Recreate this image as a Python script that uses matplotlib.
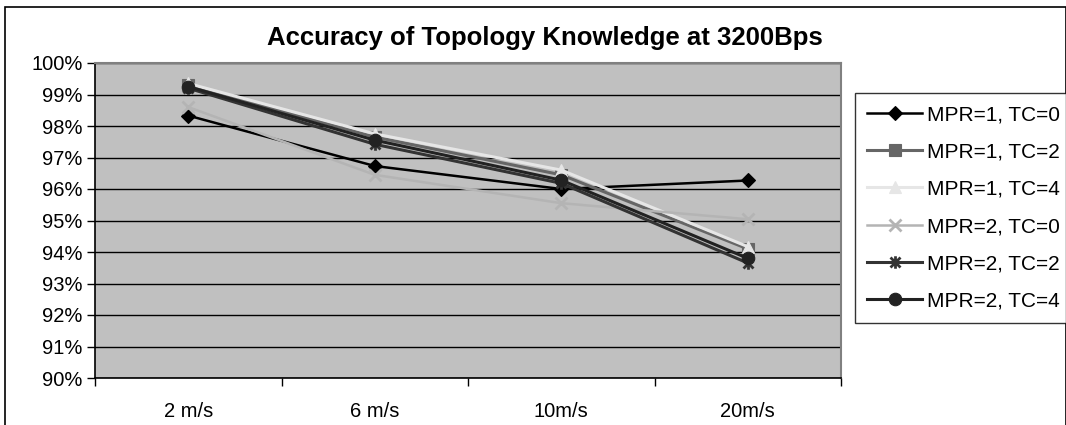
import matplotlib
matplotlib.use("Agg")
import matplotlib.pyplot as plt
from matplotlib.patches import Rectangle
from matplotlib.path import Path
from matplotlib.ticker import FixedLocator, FuncFormatter

plt.rcParams['font.family'] = ['Liberation Sans', 'DejaVu Sans']

speeds = ["2 m/s", "6 m/s", "10m/s", "20m/s"]

mpr1_tc0 = [98.33, 96.73, 96.00, 96.27]
mpr1_tc2 = [99.30, 97.65, 96.45, 94.10]
mpr1_tc4 = [99.35, 97.75, 96.60, 94.17]
mpr2_tc0 = [98.60, 96.45, 95.55, 95.04]
mpr2_tc2 = [99.20, 97.42, 96.18, 93.65]
mpr2_tc4 = [99.25, 97.55, 96.28, 93.80]

# asterisk: an X crossed by a vertical stroke
star = Path([(-1, -1), (1, 1), (-1, 1), (1, -1), (0, -1.25), (0, 1.25)],
            [Path.MOVETO, Path.LINETO, Path.MOVETO, Path.LINETO, Path.MOVETO, Path.LINETO])

series = [
    ("MPR=1, TC=0", mpr1_tc0, "#000000", "D", 7.5, 1.8),
    ("MPR=1, TC=2", mpr1_tc2, "#666666", "s", 8, 2.2),
    ("MPR=1, TC=4", mpr1_tc4, "#e6e6e6", "^", 8.5, 2.2),
    ("MPR=2, TC=0", mpr2_tc0, "#b4b4b4", "x", 8.5, 1.8),
    ("MPR=2, TC=2", mpr2_tc2, "#333333", star, 9, 2.2),
    ("MPR=2, TC=4", mpr2_tc4, "#222222", "o", 9, 2.2),
]

fig = plt.figure(figsize=(10.66, 4.25), dpi=100)
W, H = 1066, 425

# outer chart frame
fig.patches.append(Rectangle((5 / W, -0.05), (W - 5) / W, 1 - 7 / H + 0.05,
                             transform=fig.transFigure, fill=False,
                             edgecolor="#000000", linewidth=1.2))

ax = fig.add_axes([95 / W, 1 - 378 / H, (841 - 95) / W, (378 - 63) / H])
ax.set_facecolor("#c0c0c0")

x = list(range(len(speeds)))
for label, vals, color, marker, ms, lw in series:
    thin = marker == "x" or marker is star
    ax.plot(x, vals, color=color, marker=marker, markersize=ms,
            markerfacecolor=color, markeredgecolor=color,
            markeredgewidth=2.0 if thin else 0.8,
            linewidth=lw, label=label, clip_on=False)

ax.set_xlim(-0.5, len(speeds) - 0.5)
ax.set_ylim(90, 100)
ax.yaxis.set_major_locator(FixedLocator(range(90, 101)))
ax.yaxis.set_major_formatter(FuncFormatter(lambda v, p: f"{int(round(v))}%"))
ax.set_xticks(x)
ax.set_xticklabels(speeds)
ax.xaxis.set_minor_locator(FixedLocator([i - 0.5 for i in range(len(speeds) + 1)]))
ax.tick_params(axis="x", which="major", length=0, pad=24, labelsize=14.5)
ax.tick_params(axis="x", which="minor", length=6, width=1, color="#000000", direction="out")
ax.tick_params(axis="y", length=6, width=1, color="#000000", direction="out", pad=3, labelsize=14.5)
for t in ax.get_xticklabels():
    t.set_verticalalignment("center")

ax.grid(axis="y", color="#000000", linewidth=1)
ax.set_axisbelow(True)
for side in ("top", "right"):
    ax.spines[side].set_color("#808080")
    ax.spines[side].set_linewidth(1.5)
for side in ("left", "bottom"):
    ax.spines[side].set_color("#000000")
    ax.spines[side].set_linewidth(1.2)

fig.text(545 / W, 1 - 38 / H, "Accuracy of Topology Knowledge at 3200Bps",
         ha="center", va="center", fontsize=18.5, fontweight="bold")

leg = fig.legend(loc="upper left", bbox_to_anchor=(855 / W, 1 - 93 / H),
                 frameon=True, fancybox=False, edgecolor="#000000",
                 fontsize=15, handlelength=2.65, handletextpad=0.22,
                 labelspacing=0.88, borderpad=0.58, borderaxespad=0)
leg.get_frame().set_linewidth(1.0)

fig.savefig("out.png", dpi=100)
